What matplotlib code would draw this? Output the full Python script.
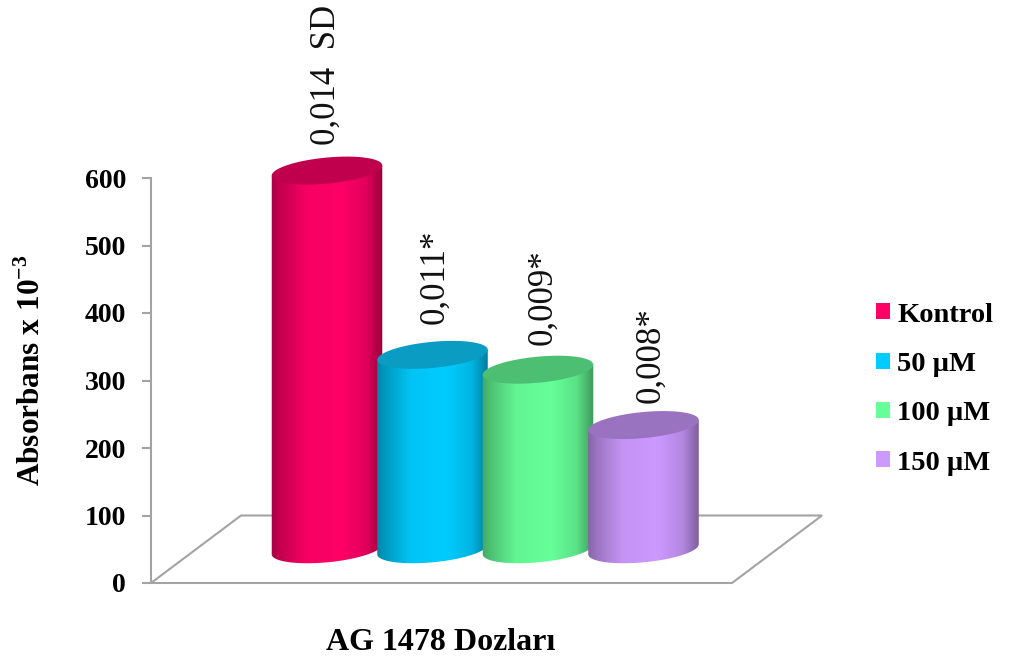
import numpy as np
import matplotlib
matplotlib.use('Agg')
import matplotlib.pyplot as plt
from matplotlib.patches import Patch, PathPatch, Polygon
from matplotlib.path import Path

plt.rcParams['mathtext.fontset'] = 'custom'
plt.rcParams['mathtext.bf'] = 'Liberation Serif:bold'
plt.rcParams['mathtext.rm'] = 'Liberation Serif:bold'

doses = ['Kontrol', '50 µM', '100 µM', '150 µM']
absorbance = [561, 288, 266, 184]
sd_labels = ['0,014  SD', '0,011*', '0,009*', '0,008*']
colors = ['#FF0066', '#00CCFF', '#66FF99', '#CC99FF']
top_colors = ['#C0004D', '#0A9CC2', '#4DBF73', '#9973BF']
y_ticks = [0, 100, 200, 300, 400, 500, 600]

# cylinders stand halfway into the floor, so their foot sits above zero
floor_depth = 100
base_level = 50

W, H = 1011, 659
AX_L, AX_R = 151, 822
AX_BOTTOM, AX_TOP = 583, 178
X0_PX, X_STEP = 327, 105.5
Y_SCALE = (AX_BOTTOM - AX_TOP) / 600
GREY = '#A3A3A3'
SERIF = 'Liberation Serif'
ELL_A, ELL_B, ELL_TILT = 55.5, 13.0, np.radians(5.5)

fig = plt.figure(figsize=(W / 100, H / 100), dpi=100, facecolor='white')
ax = fig.add_axes([AX_L / W, 1 - AX_BOTTOM / H, (AX_R - AX_L) / W, (AX_BOTTOM - AX_TOP) / H])
ax.set_xlim((AX_L - X0_PX) / X_STEP, (AX_R - X0_PX) / X_STEP)
ax.set_ylim(0, 600)
ax.patch.set_visible(False)
for side in ['top', 'right', 'bottom']:
    ax.spines[side].set_visible(False)
ax.spines['left'].set_color(GREY)
ax.spines['left'].set_linewidth(1.5)
ax.set_xticks([])
ax.set_yticks(y_ticks)
ax.tick_params(axis='y', direction='out', length=6.5, width=1.5, color=GREY, pad=11.5)
for lab in ax.get_yticklabels():
    lab.set_fontfamily(SERIF)
    lab.set_fontweight('bold')
    lab.set_fontsize(20)

# floor parallelogram
front_left, front_right = ax.get_xlim()[0], (732 - X0_PX) / X_STEP
back_left, back_right = (241 - X0_PX) / X_STEP, ax.get_xlim()[1]
ax.add_patch(Polygon([(front_left, 0), (back_left, floor_depth), (back_right, floor_depth), (front_right, 0)],
                     closed=True, facecolor='white', edgecolor=GREY, linewidth=1.5, clip_on=False, zorder=1))


def ellipse_points(xc, yc, t):
    # tilted ellipse, offsets worked out in pixels and converted to data units
    dx = ELL_A * np.cos(t) * np.cos(ELL_TILT) - ELL_B * np.sin(t) * np.sin(ELL_TILT)
    dy = ELL_A * np.cos(t) * np.sin(ELL_TILT) + ELL_B * np.sin(t) * np.cos(ELL_TILT)
    return xc + dx / X_STEP, yc + dy / Y_SCALE


def draw_cylinder(i, value, color, top_color):
    top = base_level + value
    t0 = np.arctan2(-ELL_B * np.sin(ELL_TILT), ELL_A * np.cos(ELL_TILT))
    t = np.linspace(t0, t0 - np.pi, 80)
    bx, by = ellipse_points(i, base_level, t)
    tx, ty = ellipse_points(i, top, np.array([t0 - np.pi, t0]))
    verts = list(zip(bx, by)) + list(zip(tx, ty)) + [(bx[0], by[0])]
    codes = [Path.MOVETO] + [Path.LINETO] * (len(verts) - 2) + [Path.CLOSEPOLY]
    body = PathPatch(Path(verts, codes), transform=ax.transData, facecolor='none', edgecolor='none')
    ax.add_patch(body)

    # horizontal shading: dark at both edges, full colour in the middle
    rgb = np.array(matplotlib.colors.to_rgb(color))
    u = np.linspace(0, 1, 200)
    shade = np.interp(u, [0, 0.08, 0.3, 0.62, 0.85, 1], [0.66, 0.76, 0.96, 1, 0.88, 0.6])
    img = (shade[:, None] * rgb)[None, :, :]
    half = 56 / X_STEP
    im = ax.imshow(img, extent=[i - half, i + half, base_level - 30, top + 30], aspect='auto',
                   interpolation='bilinear', zorder=2 + i)
    im.set_clip_box(fig.bbox)
    im.set_clip_path(body)

    ex, ey = ellipse_points(i, top, np.linspace(0, 2 * np.pi, 120))
    ax.fill(ex, ey, color=top_color, linewidth=0, clip_on=False, zorder=2 + i)


for i, (value, color, top_color) in enumerate(zip(absorbance, colors, top_colors)):
    draw_cylinder(i, value, color, top_color)

ax.set_xlim((AX_L - X0_PX) / X_STEP, (AX_R - X0_PX) / X_STEP)
ax.set_ylim(0, 600)

# rotated SD labels above each cylinder
label_dx = [-1, 2, 5, 7]
label_dy = [26, 31, 25, 22]
for i, (value, text) in enumerate(zip(absorbance, sd_labels)):
    ax.annotate(text, xy=(i, base_level + value), xytext=(label_dx[i], label_dy[i]),
                textcoords='offset pixels', rotation=90, ha='center', va='bottom',
                family=SERIF, fontsize=25, color='#111111', annotation_clip=False, zorder=10)

fig.text(32 / W, 1 - 370 / H, r'Absorbans x 10$^{\mathbf{-3}}$', rotation=90, ha='center', va='center',
         family=SERIF, fontweight='bold', fontsize=22.5, color='black')
fig.text(440.5 / W, 1 - 642 / H, 'AG 1478 Dozları', ha='center', va='center',
         family=SERIF, fontweight='bold', fontsize=23, color='black')

handles = [Patch(facecolor=c, edgecolor='none') for c in colors]
fig.legend(handles, doses, loc='upper left', bbox_to_anchor=(876 / W, 1 - 302.5 / H), frameon=False,
           handlelength=0.49, handleheight=0.49, handletextpad=0.25, labelspacing=0.855,
           borderpad=0, borderaxespad=0, prop={'family': SERIF, 'weight': 'bold', 'size': 20.5})

fig.savefig('out.png', dpi=100)
